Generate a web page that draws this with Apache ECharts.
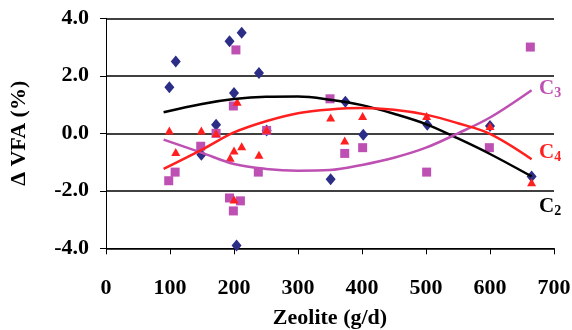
<!DOCTYPE html>
<html>
<head>
<meta charset="utf-8">
<script src="https://cdn.jsdelivr.net/npm/echarts@6/dist/echarts.min.js"></script>
<style>
  html, body { margin: 0; padding: 0; background: #fff; }
  #chart { width: 572px; height: 330px; }
</style>
</head>
<body>
<div id="chart"></div>
<script>
// Change in volatile fatty acids against zeolite feed rate
const xTicks = [0, 100, 200, 300, 400, 500, 600, 700];
const yTicks = [-4, -2, 0, 2, 4];

// C2 (diamonds)
const c2X = [99, 109, 149, 172, 193, 200, 204, 212, 239, 251, 351, 374, 402, 502, 600, 665];
const c2Y = [1.6, 2.5, -0.75, 0.3, 3.2, 1.4, -3.9, 3.5, 2.1, 0.1, -1.6, 1.1, -0.05, 0.3, 0.25, -1.5];

// C3 (squares)
const c3X = [98, 108, 148, 172, 193, 199, 199, 203, 210, 238, 251, 350, 373, 401, 501, 599, 663];
const c3Y = [-1.65, -1.35, -0.45, 0.0, -2.25, 0.95, -2.7, 2.9, -2.35, -1.35, 0.1, 1.2, -0.7, -0.5, -1.35, -0.5, 3.0];

// C4 (triangles)
const c4X = [99, 109, 149, 172, 194, 200, 200, 205, 212, 239, 251, 351, 373, 401, 501, 600, 665];
const c4Y = [0.1, -0.65, 0.1, 0.0, -0.85, -0.6, -2.3, 1.1, -0.45, -0.75, 0.12, 0.55, -0.25, 0.6, 0.6, 0.25, -1.7];

// Trend curves
const fitX  = [90, 150, 200, 250, 300, 350, 400, 450, 500, 550, 600, 665];
const c2Fit = [0.73, 1.02, 1.19, 1.27, 1.28, 1.17, 0.98, 0.68, 0.32, -0.18, -0.72, -1.5];
const c3Fit = [-0.22, -0.68, -1.07, -1.24, -1.3, -1.28, -1.1, -0.85, -0.5, 0.0, 0.55, 1.5];
const c4Fit = [-1.24, -0.57, 0.03, 0.42, 0.7, 0.83, 0.88, 0.82, 0.65, 0.35, -0.02, -0.9];

const zip = (xs, ys) => xs.map((x, i) => [x, ys[i]]);

const NAVY = '#2B2D86';
const MAGENTA = '#BD50B2';
const RED = '#FF1F1F';
const FONT = '"Liberation Serif", "Times New Roman", serif';

const chart = echarts.init(document.getElementById('chart'), null, { renderer: 'canvas' });

const labelRich = (color) => ({
  c: { fontFamily: FONT, fontWeight: 'bold', fontSize: 21, fill: color },
  s: { fontFamily: FONT, fontWeight: 'bold', fontSize: 14, fill: color, padding: [10, 0, 0, 0] }
});

chart.setOption({
  animation: false,
  backgroundColor: '#fff',
  grid: { left: 106, right: 18, top: 18.3, bottom: 81.7, outerBoundsMode: 'none', containLabel: false },
  xAxis: {
    type: 'value',
    min: xTicks[0], max: xTicks[xTicks.length - 1], interval: 100,
    name: 'Zeolite (g/d)',
    nameLocation: 'middle',
    nameGap: 59,
    nameTextStyle: { fontFamily: FONT, fontWeight: 'bold', fontSize: 22, color: '#000' },
    axisLine: { onZero: false, lineStyle: { color: '#000', width: 1 } },
    axisTick: { show: true, inside: false, length: 6, lineStyle: { color: '#000', width: 1 } },
    splitLine: { show: false },
    axisLabel: { margin: 29, fontFamily: FONT, fontWeight: 'bold', fontSize: 22, color: '#000' }
  },
  yAxis: {
    type: 'value',
    min: yTicks[0], max: yTicks[yTicks.length - 1], interval: 2,
    name: '\u0394 VFA (%)',
    nameLocation: 'middle',
    nameRotate: 90,
    nameGap: 76,
    nameTextStyle: { fontFamily: FONT, fontWeight: 'bold', fontSize: 22, color: '#000' },
    axisLine: { show: true, lineStyle: { color: '#000', width: 1 } },
    axisTick: { show: true, inside: false, length: 6, lineStyle: { color: '#000', width: 1 } },
    splitLine: { show: true, lineStyle: { color: '#000', width: 1.5 } },
    axisLabel: {
      margin: 17, fontFamily: FONT, fontWeight: 'bold', fontSize: 22, color: '#000',
      formatter: (v) => v.toFixed(1)
    }
  },
  series: [
    {
      name: 'C2', type: 'scatter', data: zip(c2X, c2Y),
      symbol: 'diamond', symbolSize: [10, 12],
      itemStyle: { color: NAVY, opacity: 1 }, z: 2
    },
    {
      name: 'C3', type: 'scatter', data: zip(c3X, c3Y),
      symbol: 'rect', symbolSize: 9,
      itemStyle: { color: MAGENTA, opacity: 1 }, z: 3
    },
    {
      name: 'C4', type: 'scatter', data: zip(c4X, c4Y),
      symbol: 'triangle', symbolSize: [9, 8],
      itemStyle: { color: RED, opacity: 1 }, z: 4
    },
    {
      name: 'C2 trend', type: 'line', data: zip(fitX, c2Fit), smooth: 0.35,
      showSymbol: false, lineStyle: { color: '#000', width: 2.5 }, z: 5
    },
    {
      name: 'C3 trend', type: 'line', data: zip(fitX, c3Fit), smooth: 0.35,
      showSymbol: false, lineStyle: { color: MAGENTA, width: 2.5 }, z: 5
    },
    {
      name: 'C4 trend', type: 'line', data: zip(fitX, c4Fit), smooth: 0.35,
      showSymbol: false, lineStyle: { color: RED, width: 2.5 }, z: 5
    }
  ],
  graphic: [
    { type: 'text', left: 539, top: 78, style: { text: '{c|C}{s|3}', rich: labelRich(MAGENTA) } },
    { type: 'text', left: 539, top: 142, style: { text: '{c|C}{s|4}', rich: labelRich(RED) } },
    { type: 'text', left: 539, top: 196, style: { text: '{c|C}{s|2}', rich: labelRich('#000') } }
  ]
});
</script>
</body>
</html>
